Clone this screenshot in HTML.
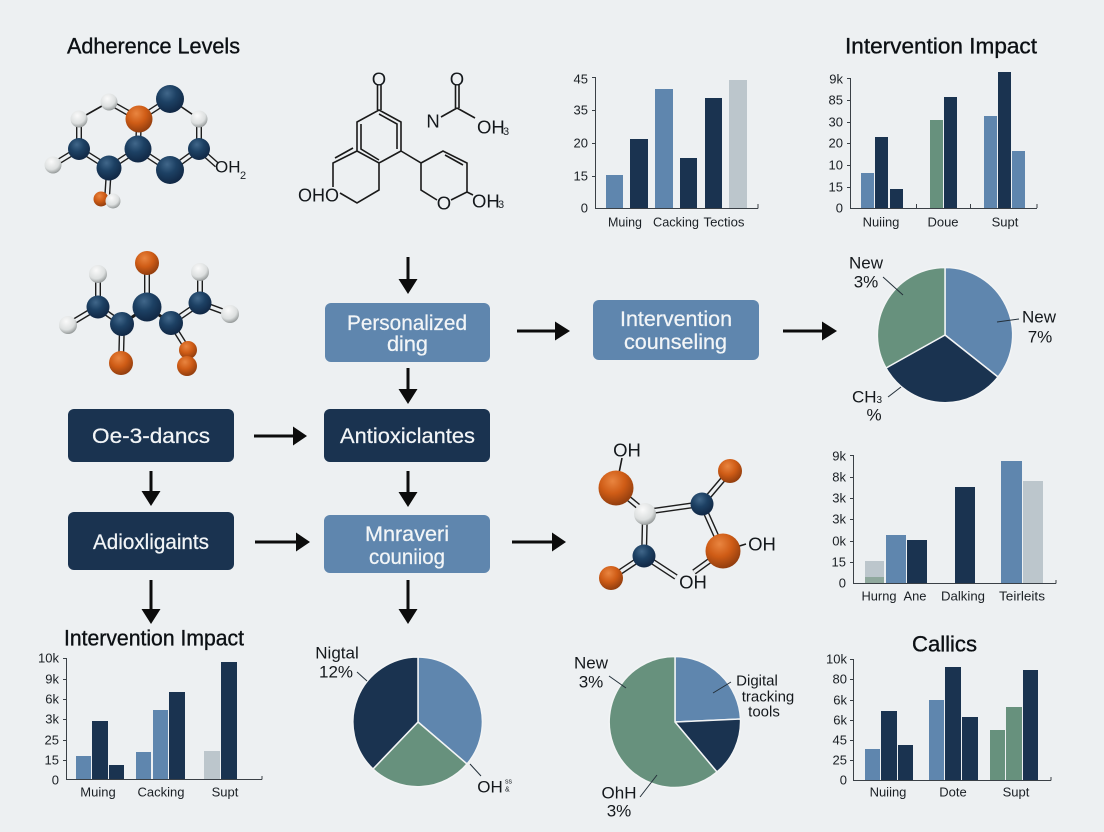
<!DOCTYPE html>
<html><head><meta charset="utf-8"><style>
html,body{margin:0;padding:0;background:#edf0f2}
svg{display:block}
text{font-family:"Liberation Sans",sans-serif;dominant-baseline:central;fill:#1a1f24;font-size:13px}
.m{text-anchor:middle}.e{text-anchor:end}
.t{font-size:22.5px;fill:#0c1014;stroke:#0c1014;stroke-width:.35px}
.b{font-size:21.5px;fill:#f2f5f7;text-anchor:middle;stroke:#f2f5f7;stroke-width:.25px}
.l{font-size:17px;fill:#14181c;text-anchor:middle}
.c{font-size:18.5px;fill:#14181c}
.ax{stroke:#3a4046;stroke-width:1;fill:none}
.nv{fill:#1a3350}.bl{fill:#5f86ae}.gr{fill:#bcc6cc}.gn{fill:#67917d}
.ld{stroke:#24303a;stroke-width:1;fill:none}
.s{stroke:#1a1a1a;stroke-width:1.6;fill:none}
.d1{stroke:#1d1d1d;stroke-width:6;fill:none}
.d2{stroke:#edf0f2;stroke-width:3.2;fill:none}
.ar{stroke:#0c0c0c;stroke-width:3;fill:none}
.ah{fill:#0c0c0c}
</style></head><body>
<svg xmlns="http://www.w3.org/2000/svg" width="1104" height="832" viewBox="0 0 1104 832">
<defs>
<radialGradient id="n" cx="40%" cy="30%" r="72%"><stop offset="0" stop-color="#41678a"/><stop offset=".45" stop-color="#1d4164"/><stop offset="1" stop-color="#102643"/></radialGradient>
<radialGradient id="o" cx="40%" cy="30%" r="72%"><stop offset="0" stop-color="#e98540"/><stop offset=".5" stop-color="#cf5c16"/><stop offset="1" stop-color="#8f3c0e"/></radialGradient>
<radialGradient id="w" cx="40%" cy="30%" r="78%"><stop offset="0" stop-color="#fafafa"/><stop offset=".6" stop-color="#dcdfdf"/><stop offset="1" stop-color="#7f8484"/></radialGradient>
</defs>
<rect width="1104" height="832" fill="#edf0f2"/>

<!-- titles -->
<text class="t" x="67" y="46" textLength="173" lengthAdjust="spacingAndGlyphs">Adherence Levels</text>
<text class="t" x="845" y="46" textLength="192" lengthAdjust="spacingAndGlyphs">Intervention Impact</text>
<text class="t" x="64" y="638" textLength="180" lengthAdjust="spacingAndGlyphs">Intervention Impact</text>
<text class="t" x="912" y="644" textLength="65" lengthAdjust="spacingAndGlyphs">Callics</text>

<!-- molecule 1 -->
<path class="s" d="M109 102L79 119M170 99L199 119"/>
<path class="d1" d="M109 102L139 119M139 119L170 99M79 119L79 149M199 119L199 149M139 119L138 149M79 149L53 165M79 149L109 168M109 168L138 149M138 149L170 170M170 170L199 149M199 149L217 165M109 168L107 199"/>
<path class="d2" d="M109 102L139 119M139 119L170 99M79 119L79 149M199 119L199 149M139 119L138 149M79 149L53 165M79 149L109 168M109 168L138 149M138 149L170 170M170 170L199 149M199 149L217 165M109 168L107 199"/>
<circle cx="109" cy="102" r="8.500" fill="url(#w)"/><circle cx="79" cy="119" r="8.500" fill="url(#w)"/><circle cx="199" cy="119" r="8.500" fill="url(#w)"/>
<circle cx="170" cy="99" r="14" fill="url(#n)"/><circle cx="139" cy="119" r="13.500" fill="url(#o)"/>
<circle cx="79" cy="149" r="11" fill="url(#n)"/><circle cx="138" cy="149" r="13.500" fill="url(#n)"/><circle cx="199" cy="149" r="11" fill="url(#n)"/>
<circle cx="53" cy="165" r="8.500" fill="url(#w)"/><circle cx="109" cy="168" r="12.500" fill="url(#n)"/><circle cx="170" cy="170" r="14" fill="url(#n)"/>
<circle cx="101" cy="199" r="7.500" fill="url(#o)"/><circle cx="113" cy="201" r="7.500" fill="url(#w)"/>
<text class="c" x="215" y="167" style="font-size:17px">OH</text><text x="240" y="176" style="font-size:11px">2</text>

<!-- molecule 2 -->
<path class="s" d="M377.500 85V110M381 85V110M379 110L401 122V151L379 163L357 151V122ZM379 114L397 124V149M361 124V149L379 160M357 151L333 163V187M335 158L353 148M340 193L357 203L379 190V163M401 151L421 163V190L437 200M421 163L443 151L467 163V192L451 200M445 155L463 165M467 192L473 195M441 117L457 108M455.500 85V108M459 85V108M457 108L475 118"/>
<text class="c" x="379" y="79" text-anchor="middle">O</text>
<text class="c" x="457" y="79" text-anchor="middle">O</text>
<text class="c" x="433" y="121" text-anchor="middle">N</text>
<text class="c" x="477" y="127">OH</text><text x="503" y="132" style="font-size:11px">3</text>
<text class="c" x="298" y="195" textLength="41" lengthAdjust="spacingAndGlyphs">OHO</text>
<text class="c" x="444" y="203" text-anchor="middle">O</text>
<text class="c" x="472" y="201">OH</text><text x="498" y="205" style="font-size:11px">3</text>

<!-- molecule 3 -->
<path class="s" d="M122 324L147 307" style="stroke-width:3"/><path class="s" d="M147 307L171 323" style="stroke-width:3"/>
<path class="d1" d="M98 307L98 274M98 307L68 325M98 307L122 324M147 307L147 263M171 323L200 303M200 303L200 272M200 303L230 314M122 324L121 363M171 323L188 350"/>
<path class="d2" d="M98 307L98 274M98 307L68 325M98 307L122 324M147 307L147 263M171 323L200 303M200 303L200 272M200 303L230 314M122 324L121 363M171 323L188 350"/>
<circle cx="147" cy="263" r="12" fill="url(#o)"/><circle cx="98" cy="274" r="9" fill="url(#w)"/><circle cx="200" cy="272" r="9" fill="url(#w)"/>
<circle cx="147" cy="307" r="14.500" fill="url(#n)"/><circle cx="98" cy="307" r="11.500" fill="url(#n)"/><circle cx="200" cy="303" r="11.500" fill="url(#n)"/>
<circle cx="68" cy="325" r="9" fill="url(#w)"/><circle cx="230" cy="314" r="9" fill="url(#w)"/>
<circle cx="122" cy="324" r="12" fill="url(#n)"/><circle cx="171" cy="323" r="12" fill="url(#n)"/>
<circle cx="121" cy="363" r="12" fill="url(#o)"/><circle cx="188" cy="350" r="9" fill="url(#o)"/><circle cx="187" cy="366" r="10" fill="url(#o)"/>

<!-- molecule 4 -->
<path class="s" d="M616 488L622 458M723 551L746 544"/>
<path class="d1" d="M616 488L645 512M645 512L702 504M702 504L730 471M702 504L723 551M645 512L644 556M644 556L611 578M644 556L676 577M723 551L694 572"/>
<path class="d2" d="M616 488L645 512M645 512L702 504M702 504L730 471M702 504L723 551M645 512L644 556M644 556L611 578M644 556L676 577M723 551L694 572"/>
<circle cx="616" cy="488" r="17.500" fill="url(#o)"/><circle cx="645" cy="514" r="11" fill="url(#w)"/><circle cx="702" cy="504" r="11.500" fill="url(#n)"/>
<circle cx="730" cy="471" r="12" fill="url(#o)"/><circle cx="723" cy="551" r="17.500" fill="url(#o)"/><circle cx="644" cy="556" r="11.500" fill="url(#n)"/><circle cx="611" cy="578" r="12" fill="url(#o)"/>
<text class="c" x="627" y="450" text-anchor="middle">OH</text>
<text class="c" x="762" y="544" text-anchor="middle">OH</text>
<text class="c" x="693" y="582" text-anchor="middle">OH</text>

<!-- chart 1 -->
<g>
<rect class="bl" x="606" y="175" width="17" height="33"/><rect class="nv" x="630" y="139" width="18" height="69"/><rect class="bl" x="655" y="89" width="18" height="119"/><rect class="nv" x="680" y="158" width="17" height="50"/><rect class="nv" x="705" y="98" width="17" height="110"/><rect class="gr" x="729" y="80" width="18" height="128"/>
<path class="ax" d="M595.500 77V208.500H758M758 208.500V204M592 77.500H595M592 110.500H595M592 143.500H595M592 176.500H595"/>
<text class="e" x="588" y="79">45</text><text class="e" x="588" y="110">35</text><text class="e" x="588" y="143">20</text><text class="e" x="588" y="176">15</text><text class="e" x="588" y="208">0</text>
<text class="m" x="625" y="222" textLength="34" lengthAdjust="spacingAndGlyphs">Muing</text><text class="m" x="676" y="222" textLength="46" lengthAdjust="spacingAndGlyphs">Cacking</text><text class="m" x="724" y="222" textLength="41" lengthAdjust="spacingAndGlyphs">Tectios</text>
</g>

<!-- chart 2 -->
<g>
<rect class="bl" x="861" y="173" width="13" height="35"/><rect class="nv" x="875" y="137" width="13" height="71"/><rect class="nv" x="890" y="189" width="13" height="19"/><rect class="gn" x="930" y="120" width="13" height="88"/><rect class="nv" x="944" y="97" width="13" height="111"/><rect class="bl" x="984" y="116" width="13" height="92"/><rect class="nv" x="998" y="72" width="13" height="136"/><rect class="bl" x="1012" y="151" width="13" height="57"/>
<path class="ax" d="M850.500 78V208.500H1037M916.500 208V204M970.500 208V204M1037 208V204M847 78.500H850M847 100.500H850M847 122.500H850M847 143.500H850M847 165.500H850M847 187.500H850"/>
<text class="e" x="843" y="79">9k</text><text class="e" x="843" y="100">85</text><text class="e" x="843" y="122">30</text><text class="e" x="843" y="143">20</text><text class="e" x="843" y="165">10</text><text class="e" x="843" y="187">15</text><text class="e" x="843" y="208">0</text>
<text class="m" x="881" y="222">Nuiing</text><text class="m" x="943" y="222">Doue</text><text class="m" x="1005" y="222">Supt</text>
</g>

<!-- chart 3 -->
<g>
<rect class="gr" x="865" y="561" width="19" height="22"/><rect x="865" y="577" width="19" height="6" fill="#8fa89d"/><rect class="bl" x="886" y="535" width="20" height="48"/><rect class="nv" x="907" y="540" width="20" height="43"/><rect class="nv" x="955" y="487" width="20" height="96"/><rect class="bl" x="1001" y="461" width="21" height="122"/><rect class="gr" x="1023" y="481" width="20" height="102"/>
<path class="ax" d="M853.500 455V583.500H1056M1056 583.500V580M850 455.500H853M850 477.500H853M850 498.500H853M850 519.500H853M850 541.500H853M850 562.500H853"/>
<text class="e" x="846" y="456">9k</text><text class="e" x="846" y="477">8k</text><text class="e" x="846" y="498">3k</text><text class="e" x="846" y="519">3k</text><text class="e" x="846" y="541">0k</text><text class="e" x="846" y="562">15</text><text class="e" x="846" y="583">0</text>
<text class="m" x="879" y="596" textLength="35" lengthAdjust="spacingAndGlyphs">Hurng</text><text class="m" x="915" y="596" textLength="23" lengthAdjust="spacingAndGlyphs">Ane</text><text class="m" x="963" y="596" textLength="44" lengthAdjust="spacingAndGlyphs">Dalking</text><text class="m" x="1022" y="596" textLength="46" lengthAdjust="spacingAndGlyphs">Teirleits</text>
</g>

<!-- chart 4 -->
<g>
<rect class="bl" x="865" y="749" width="15" height="31"/><rect class="nv" x="881" y="711" width="16" height="69"/><rect class="nv" x="898" y="745" width="15" height="35"/><rect class="bl" x="929" y="700" width="15" height="80"/><rect class="nv" x="945" y="667" width="16" height="113"/><rect class="nv" x="962" y="717" width="16" height="63"/><rect class="gn" x="990" y="730" width="15" height="50"/><rect class="gn" x="1006" y="707" width="16" height="73"/><rect class="nv" x="1023" y="670" width="15" height="110"/>
<path class="ax" d="M853.500 659V780.500H1051M1051 780.500V777M850 659.500H853M850 679.500H853M850 700.500H853M850 720.500H853M850 740.500H853M850 760.500H853"/>
<text class="e" x="847" y="659">10k</text><text class="e" x="847" y="679">80</text><text class="e" x="847" y="700">6k</text><text class="e" x="847" y="720">6k</text><text class="e" x="847" y="740">45</text><text class="e" x="847" y="760">25</text><text class="e" x="847" y="780">0</text>
<text class="m" x="888" y="792">Nuiing</text><text class="m" x="953" y="792">Dote</text><text class="m" x="1016" y="792">Supt</text>
</g>

<!-- chart 5 -->
<g>
<rect class="bl" x="76" y="756" width="15" height="23"/><rect class="nv" x="92" y="721" width="16" height="58"/><rect class="nv" x="109" y="765" width="15" height="14"/><rect class="bl" x="136" y="752" width="15" height="27"/><rect class="bl" x="153" y="710" width="15" height="69"/><rect class="nv" x="169" y="692" width="16" height="87"/><rect class="gr" x="204" y="751" width="16" height="28"/><rect class="nv" x="221" y="662" width="16" height="117"/>
<path class="ax" d="M66.500 658V779.500H262M262 779.500V776M63 658.500H66M63 679.500H66M63 699.500H66M63 719.500H66M63 740.500H66M63 760.500H66"/>
<text class="e" x="59" y="658">10k</text><text class="e" x="59" y="679">9k</text><text class="e" x="59" y="699">6k</text><text class="e" x="59" y="719">3k</text><text class="e" x="59" y="740">25</text><text class="e" x="59" y="760">15</text><text class="e" x="59" y="780">0</text>
<text class="m" x="98" y="792">Muing</text><text class="m" x="161" y="792">Cacking</text><text class="m" x="225" y="792">Supt</text>
</g>

<!-- pie 1 -->
<g stroke="#f2f4f5" stroke-width="1.5">
<path class="bl" d="M945 335L945 267.500A67.500 67.500 0 0 1 998 377Z"/>
<path class="nv" d="M945 335L998 377A67.500 67.500 0 0 1 886 368Z"/>
<path class="gn" d="M945 335L886 368A67.500 67.500 0 0 1 945 267.500Z"/>
</g>
<path class="ld" d="M883 277L903 295M997 322L1019 319M888 397L901 387"/>
<text class="l" x="866" y="263">New</text><text class="l" x="866" y="282">3%</text>
<text class="l" x="1039" y="317">New</text><text class="l" x="1040" y="337">7%</text>
<text class="l" x="867" y="397">CH<tspan font-size="10" dy="3">3</tspan></text><text class="l" x="874" y="415">%</text>

<!-- pie 2 -->
<g stroke="#f2f4f5" stroke-width="1.5">
<path class="bl" d="M418 722L418 657A65 65 0 0 1 467 764Z"/>
<path class="gn" d="M418 722L467 764A65 65 0 0 1 373 769Z"/>
<path class="nv" d="M418 722L373 769A65 65 0 0 1 418 657Z"/>
</g>
<path class="ld" d="M357 672L367 681M470 764L481 776"/>
<text class="l" x="337" y="653">Nigtal</text><text class="l" x="336" y="672">12%</text>
<text class="l" x="490" y="787">OH</text><text x="505" y="782" style="font-size:7px">ss</text><text x="505" y="790" style="font-size:7px">&amp;</text>

<!-- pie 3 -->
<g stroke="#f2f4f5" stroke-width="1.5">
<path class="bl" d="M675 722L675 656.500A65.500 65.500 0 0 1 740.500 719Z"/>
<path class="nv" d="M675 722L740.500 719A65.500 65.500 0 0 1 717 772Z"/>
<path class="gn" d="M675 722L717 772A65.500 65.500 0 1 1 675 656.500Z"/>
</g>
<path class="ld" d="M609 676L626 688M731 682L713 693M640 797L657 775"/>
<text class="l" x="591" y="663">New</text><text class="l" x="591" y="682">3%</text>
<text class="l" x="757" y="681" style="font-size:15px">Digital</text><text class="l" x="768" y="697" style="font-size:15px">tracking</text><text class="l" x="764" y="712" style="font-size:15px">tools</text>
<text class="l" x="619" y="793">OhH</text><text class="l" x="619" y="811">3%</text>

<!-- boxes -->
<rect class="bl" x="325" y="303" width="165" height="59" rx="6"/>
<text class="b" x="407" y="323" textLength="120" lengthAdjust="spacingAndGlyphs">Personalized</text><text class="b" x="407.500" y="344" textLength="41" lengthAdjust="spacingAndGlyphs">ding</text>
<rect class="bl" x="593" y="300" width="166" height="60" rx="6"/>
<text class="b" x="676" y="319" textLength="112" lengthAdjust="spacingAndGlyphs">Intervention</text><text class="b" x="675.500" y="342" textLength="103" lengthAdjust="spacingAndGlyphs">counseling</text>
<rect class="nv" x="68" y="409" width="166" height="53" rx="6"/>
<text class="b" x="151" y="436" textLength="118" lengthAdjust="spacingAndGlyphs">Oe-3-dancs</text>
<rect class="nv" x="324" y="409" width="166" height="53" rx="6"/>
<text class="b" x="407.500" y="436" textLength="135" lengthAdjust="spacingAndGlyphs">Antioxiclantes</text>
<rect class="nv" x="68" y="512" width="166" height="58" rx="6"/>
<text class="b" x="151" y="542" textLength="116" lengthAdjust="spacingAndGlyphs">Adioxligaints</text>
<rect class="bl" x="324" y="515" width="166" height="58" rx="6"/>
<text class="b" x="407" y="534" textLength="84" lengthAdjust="spacingAndGlyphs">Mnraveri</text><text class="b" x="407" y="557" textLength="76" lengthAdjust="spacingAndGlyphs">couniiog</text>

<!-- arrows -->
<path class="ar" d="M408 257V280M408 368V390M151 471V492M408 471V493M151 580V611M408 580V611M517 331H556M783 331H823M254 436H294M255 542H297M512 542H553"/>
<path class="ah" d="M398.500 279H417.500L408 294ZM398.500 389H417.500L408 404ZM141.500 491H160.500L151 506ZM398.500 492H417.500L408 507ZM141.500 609H160.500L151 624ZM398.500 609H417.500L408 624ZM555 321.500V340.500L570 331ZM822 321.500V340.500L837 331ZM293 426.500V445.500L307 436ZM296 532.500V551.500L310 542ZM552 532.500V551.500L566 542Z"/>
</svg>
</body></html>
